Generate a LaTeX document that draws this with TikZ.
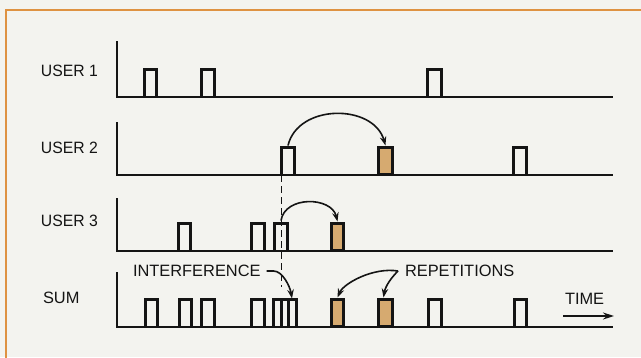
\documentclass[tikz,border=0pt]{standalone}
\usepackage{fontspec}
\setmainfont{Liberation Sans}
\usetikzlibrary{arrows.meta}
\definecolor{paper}{RGB}{243,243,239}
\definecolor{frameorange}{RGB}{222,146,66}
\definecolor{tanfill}{RGB}{214,170,112}
\definecolor{ink}{RGB}{20,20,20}
\newcommand\mkpulse[4]{%
  \node[pulsenode, minimum width={#3-#2-3}] (#1) at ({(#2+#3)/2},#4) {};
  \draw[pulseline] (#1.south west) |- (#1.north east) -- (#1.south east);}
\newcommand\mkfilled[4]{%
  \node[pulsenode, minimum width={#3-#2-3}, fill=tanfill, draw=ink, line width=3pt] (#1) at ({(#2+#3)/2},{#4+0.5}) {};}
\begin{document}
\begin{tikzpicture}[x=1pt,y=1pt,
  lbl/.style={anchor=west, inner sep=0pt, outer sep=0pt, font=\fontsize{16.4}{16}\selectfont, text=ink},
  pulsenode/.style={anchor=south, inner sep=0pt, outer sep=0pt, minimum height=27.5pt},
  pulseline/.style={draw=ink, line width=3pt, line join=miter},
  axisline/.style={draw=ink, line width=1.4pt},
  conn/.style={draw=ink, line width=1.6pt, -{Stealth[length=9pt,width=6.5pt]}},
  dashline/.style={draw=ink, line width=1.5pt, dash pattern=on 7pt off 4pt}]
\fill[paper] (0,0) rectangle (641,-357);
\useasboundingbox (0,0) rectangle (641,-357);
\draw[frameorange, line width=2.5pt] (6,-360) -- (6,-10) -- (645,-10);
% axes
\draw[axisline] (117,-41) -- (117,-97) -- (613,-97);
\draw[axisline] (117,-122) -- (117,-175) -- (613,-175);
\draw[axisline] (117,-198) -- (117,-251) -- (613,-251);
\draw[axisline] (117,-272) -- (117,-327) -- (613,-327);
% labels
\node[lbl, xscale=0.96] (l1) at (41,-71) {USER 1};
\node[lbl, xscale=0.96] (l2) at (41,-148) {USER 2};
\node[lbl, xscale=0.96] (l3) at (41,-221) {USER 3};
\node[lbl] (l4) at (43,-298) {SUM};
\node[lbl] (interf) at (133,-271) {INTERFERENCE};
\node[lbl] (rep) at (405,-271) {REPETITIONS};
\node[lbl] (time) at (565,-299) {TIME};
% row 1
\mkpulse{u1a}{143}{158}{-97}
\mkpulse{u1b}{200}{216}{-97}
\mkpulse{u1c}{426}{443}{-97}
% row 2
\mkpulse{u2a}{280}{296}{-175}
\mkfilled{u2f}{377}{394}{-175}
\mkpulse{u2b}{512}{528}{-175}
% row 3
\mkpulse{u3a}{177}{192}{-251}
\mkpulse{u3b}{250}{266}{-251}
\mkpulse{u3c}{273}{289}{-251}
\mkfilled{u3f}{330}{345}{-251}
% sum
\mkpulse{s1}{144}{159}{-327}
\mkpulse{s2}{178}{193}{-327}
\mkpulse{s3}{200}{216}{-327}
\mkpulse{s4}{250}{266}{-327}
\mkpulse{s5}{272}{290}{-327}
\mkpulse{s6}{280}{298}{-327}
\mkfilled{sf1}{330}{345}{-327}
\mkfilled{sf2}{377}{394}{-327}
\mkpulse{s7}{427}{443}{-327}
\mkpulse{s8}{513}{528}{-327}
% dashed line
\coordinate (dashend) at (281,-287);
\draw[dashline] (u2a.south west) -- (u2a.south west |- dashend);
% repetition arrows
\draw[conn] ([yshift=2pt]u2a.north) .. controls +(10,42) and +(-12,42) .. ([yshift=1.5pt]u2f.north);
\draw[conn] ([yshift=3pt]u3c.north) .. controls +(4,25) and +(-6,25) .. ([yshift=1.5pt]u3f.north);
% interference arrow
\coordinate (intA) at ([xshift=6pt]interf.east);
\draw[conn] (intA) -- +(7,0) .. controls +(9,0) and +(-2,12) .. ([xshift=3pt,yshift=1pt]s6.north);
% repetitions arrows
\coordinate (repA) at ([xshift=-7pt]rep.west);
\draw[conn] (repA) .. controls +(-25,4) and +(6,14) .. ([yshift=1.5pt]sf1.north);
\draw[conn] (repA) .. controls +(-6,-6) and +(2,12) .. ([xshift=-2pt,yshift=1.5pt]sf2.north);
% time arrow
\coordinate (t0) at (563,-316);
\coordinate (t1) at (614,-316);
\draw[conn, -{Stealth[length=11pt,width=7pt]}] (t0) -- (t1);
\end{tikzpicture}
\end{document}
